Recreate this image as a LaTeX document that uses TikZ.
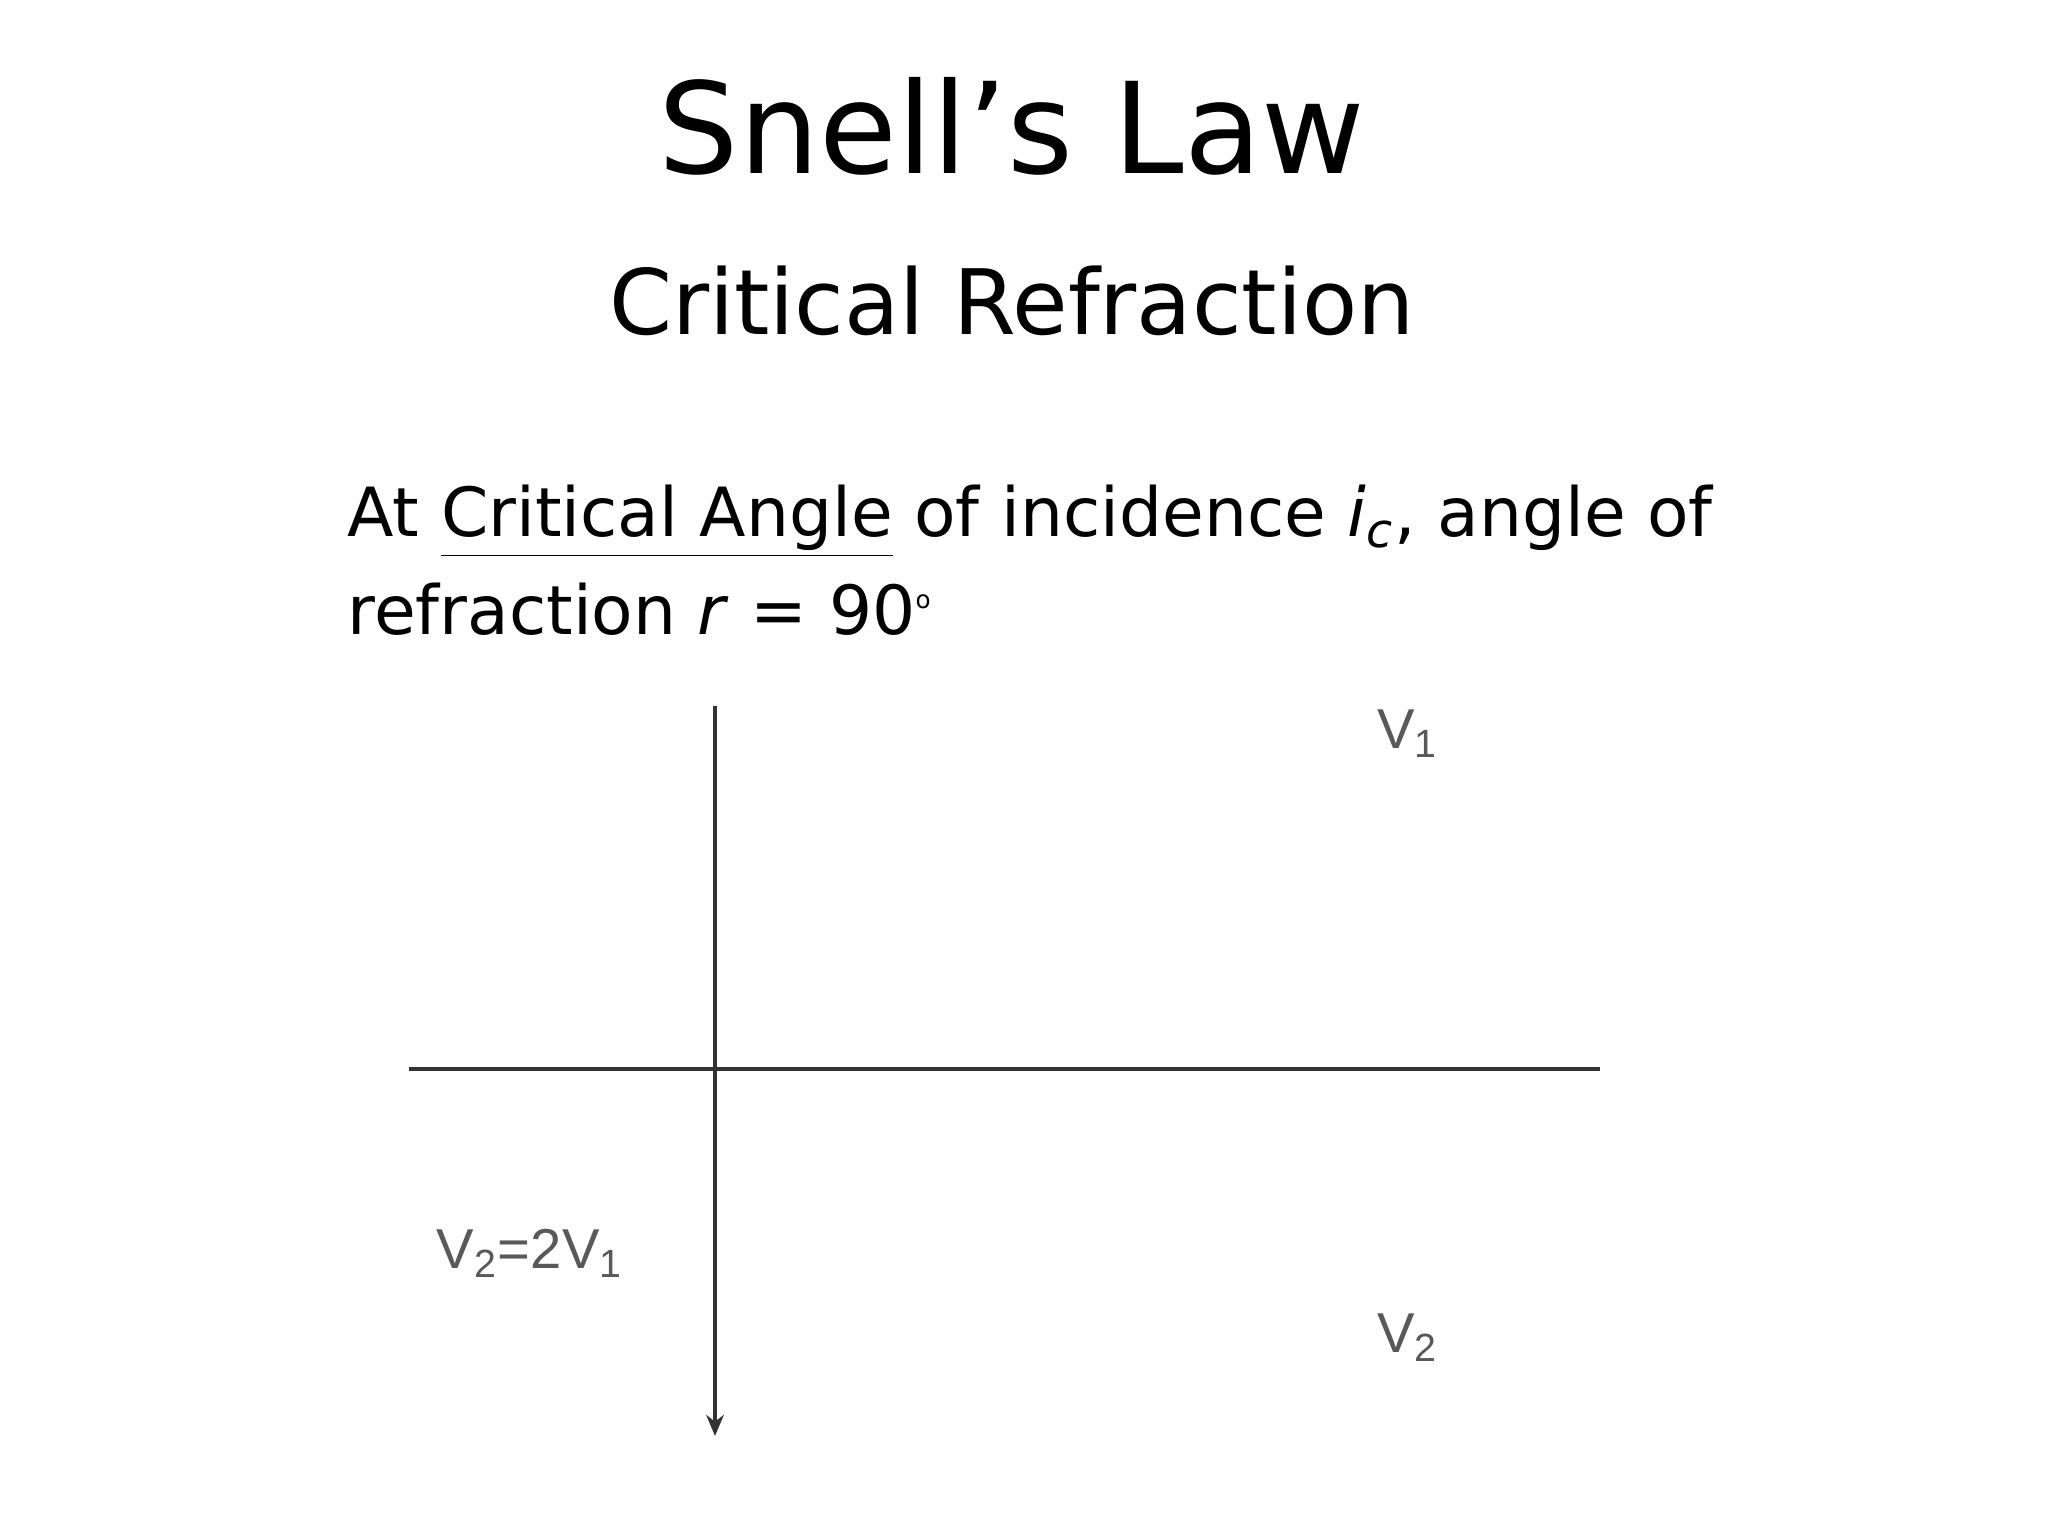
\documentclass[tikz,border=0pt]{standalone}
\usepackage{fontspec}
\setmainfont{DejaVu Sans}
\newfontfamily\arialf{Liberation Sans}
\usetikzlibrary{arrows.meta}
\begin{document}
\begin{tikzpicture}[x=1cm,y=1cm,
  lbl/.style={font=\arialf\fontsize{16}{18}\selectfont,text=black!65,inner sep=0pt}]
\useasboundingbox (0,0) rectangle (20.48,15.36);
\node[font=\fontsize{36}{42}\selectfont] (t) at (10.12,14.1) {Snell’s Law};
\node[font=\fontsize{25.7}{31}\selectfont] (s) at (10.12,12.35) {Critical Refraction};
\node[font=\fontsize{19.3}{29}\selectfont,anchor=north west,align=left,inner sep=0pt] (b) at (3.47,10.52)
 {At \underline{Critical Angle} of incidence \textit{i}\textsubscript{\textit{c}}, angle of\\[-1pt]refraction \textit{r} = 90\textsuperscript{\scriptsize o}};
\coordinate (vt) at (7.15,8.3);
\coordinate (vb) at (7.15,1.0);
\coordinate (hl) at (4.09,4.67);
\coordinate (hr) at (16.0,4.67);
\draw[line width=1.3pt,black!80] (hl) -- (hr);
\draw[line width=1pt,black!80,-{Stealth[length=6pt,width=5pt]}] (vt) -- (vb);
\node[lbl] (v1) at (14.08,8.02) {V\textsubscript{1}};
\node[lbl] (v21) at (5.3,2.83) {V\textsubscript{2}=2V\textsubscript{1}};
\node[lbl] (v2) at (14.08,1.98) {V\textsubscript{2}};
\end{tikzpicture}
\end{document}
